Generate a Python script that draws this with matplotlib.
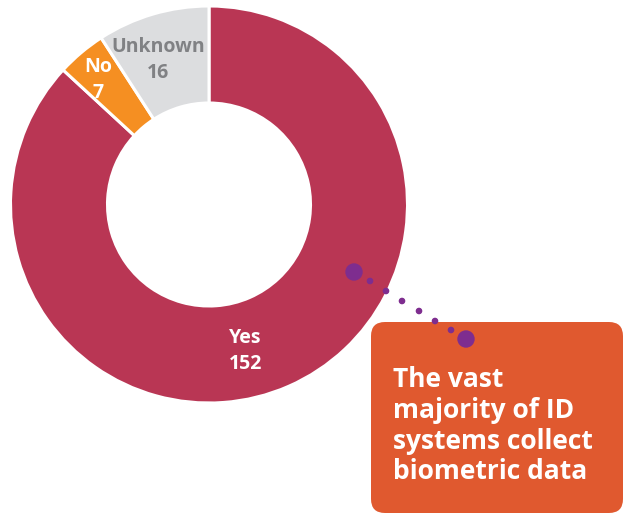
import matplotlib.pyplot as plt
from matplotlib.patches import FancyBboxPatch, Circle

# donut data
labels = ["Yes", "No", "Unknown"]
counts = [152, 7, 16]
colors = ["#B93654", "#F58F22", "#DCDDDF"]
label_colors = ["white", "white", "#808184"]

callout_lines = ["The vast", "majority of ID", "systems collect", "biometric data"]

W, H = 624, 514
fig = plt.figure(figsize=(W / 100, H / 100), dpi=100)
ax = fig.add_axes([0, 0, 1, 1])

cx, cy = 209, H - 204.5
r_out, r_in = 198.5, 101.5

wedges, _ = ax.pie(counts, colors=colors, startangle=90, counterclock=False,
                   center=(cx, cy), radius=r_out,
                   wedgeprops=dict(width=r_out - r_in, edgecolor="white", linewidth=2.2))

font = "Open Sans"
# slice labels: (x centre, baseline of name) in pixel coords from top
label_pos = [(245.5, 343), (98, 72), (158, 52)]
for (x, y), name, n, c in zip(label_pos, labels, counts, label_colors):
    ax.text(x, H - y, name, color=c, ha="center", va="baseline",
            fontsize=14, fontweight="bold", family=font)
    ax.text(x, H - y - 26, str(n), color=c, ha="center", va="baseline",
            fontsize=14, fontweight="bold", family=font)

# callout box
box = FancyBboxPatch((371, H - 513), 252, 191,
                     boxstyle="round,pad=0,rounding_size=14",
                     facecolor="#E0592F", edgecolor="none", zorder=3)
ax.add_patch(box)
for i, line in enumerate(callout_lines):
    ax.text(393, H - 387 - 30.8 * i, line, color="white", ha="left", va="baseline",
            fontsize=19, fontweight="bold", family=font, zorder=4)

# dotted connector
purple = "#7E2D8F"
ax.add_patch(Circle((354, H - 272), 8, color=purple, zorder=5))
ax.add_patch(Circle((466, H - 339), 8, color=purple, zorder=5))
for x, y in [(370, 281), (386, 291), (402, 301), (419, 311), (435, 321), (451, 330)]:
    ax.add_patch(Circle((x, H - y), 2.6, color=purple, zorder=5))

ax.set_xlim(0, W)
ax.set_ylim(0, H)
ax.set_aspect("equal")
ax.axis("off")

fig.savefig("out.png", dpi=100)
